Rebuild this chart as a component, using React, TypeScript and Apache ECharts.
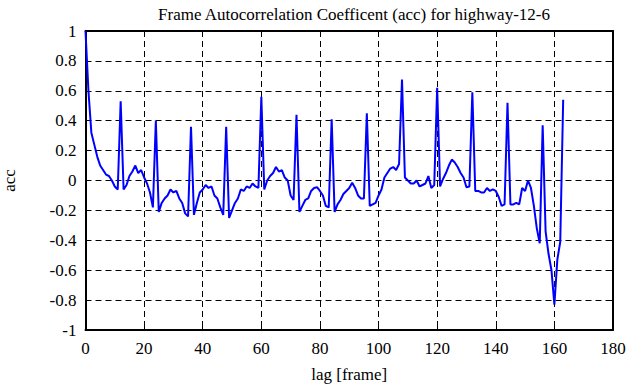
import React, { useEffect, useRef } from "react";
import * as echarts from "echarts";

const TITLE = "Frame Autocorrelation Coefficent (acc) for highway-12-6";
const X_NAME = "lag [frame]";
const Y_NAME = "acc";
const X_TICKS = [0, 20, 40, 60, 80, 100, 120, 140, 160, 180];
const Y_TICKS = [-1, -0.8, -0.6, -0.4, -0.2, 0, 0.2, 0.4, 0.6, 0.8, 1];

// autocorrelation value for lag = index (0..163)
const ACC = [
  1.0, 0.6, 0.32, 0.24, 0.16, 0.1, 0.07, 0.04, 0.03, 0.0,
  -0.04, -0.06, 0.53, -0.06, -0.03, 0.03, 0.06, 0.1, 0.05, 0.07,
  0.02, -0.02, -0.08, -0.18, 0.4, -0.21, -0.15, -0.12, -0.1, -0.06,
  -0.08, -0.07, -0.12, -0.15, -0.22, -0.24, 0.36, -0.23, -0.15, -0.08,
  -0.06, -0.03, -0.05, -0.04, -0.1, -0.12, -0.18, -0.23, 0.36, -0.25,
  -0.2, -0.15, -0.12, -0.06, -0.07, -0.04, -0.05, -0.02, -0.04, -0.05,
  0.56, -0.06, 0.0, 0.03, 0.05, 0.09, 0.06, 0.07, 0.02, 0.0,
  -0.1, -0.13, 0.44, -0.21, -0.17, -0.13, -0.12, -0.07, -0.05, -0.045,
  -0.07, -0.1, -0.17, -0.18, 0.41, -0.21, -0.16, -0.13, -0.09, -0.07,
  -0.05, -0.015, -0.05, -0.1, -0.12, -0.12, 0.45, -0.17, -0.16, -0.15,
  -0.1, -0.06, 0.02, 0.05, 0.08, 0.09, 0.07, 0.11, 0.675, 0.02,
  0.0, -0.02, -0.02, 0.0, -0.04, -0.03, -0.02, 0.03, -0.05, -0.03,
  0.62, -0.04, 0.01, 0.05, 0.1, 0.14, 0.12, 0.09, 0.05, 0.02,
  -0.045, -0.04, 0.59, -0.07, -0.07, -0.08, -0.08, -0.05, -0.07, -0.06,
  -0.07, -0.11, -0.17, -0.16, 0.52, -0.16, -0.16, -0.15, -0.16, -0.05,
  -0.07, 0.0, -0.05, -0.17, -0.32, -0.42, 0.37, -0.34, -0.49, -0.6,
  -0.83, -0.53, -0.41, 0.54,
];

const FONT = "Liberation Serif";

export default function App() {
  const ref = useRef<HTMLDivElement>(null);
  useEffect(() => {
    if (!ref.current) return;
    const chart = echarts.init(ref.current, null, { renderer: "svg" });
    const data = ACC.map((v, i) => [i, v]);
    const xMin = X_TICKS[0];
    const xMax = X_TICKS[X_TICKS.length - 1];
    const xInt = X_TICKS[1] - X_TICKS[0];
    const yMin = Y_TICKS[0];
    const yMax = Y_TICKS[Y_TICKS.length - 1];
    const label = { color: "#000", fontFamily: FONT, fontSize: 17 };
    const splitLine = { show: true, lineStyle: { color: "#000", type: [6, 4], width: 1 } };
    chart.setOption({
      animation: false,
      backgroundColor: "#fff",
      title: {
        text: TITLE,
        left: 349,
        textAlign: "center",
        top: 1,
        textStyle: { color: "#000", fontFamily: FONT, fontSize: 17, fontWeight: "normal" },
      },
      grid: {
        left: 85.5,
        right: 22,
        top: 31,
        bottom: 57,
        show: false,
        containLabel: false,
        outerBoundsMode: "none",
      },
      xAxis: [
        {
          type: "value",
          min: xMin,
          max: xMax,
          interval: xInt,
          name: X_NAME,
          nameLocation: "middle",
          nameGap: 36,
          nameTextStyle: label,
          axisLine: { show: true, onZero: false, lineStyle: { color: "#000", width: 2 } },
          axisTick: { show: true, inside: true, length: 5, lineStyle: { color: "#000", width: 1 } },
          axisLabel: { ...label, margin: 10 },
          splitLine,
        },
        {
          type: "value",
          position: "top",
          min: xMin,
          max: xMax,
          interval: xInt,
          axisLine: { show: true, onZero: false, lineStyle: { color: "#000", width: 2 } },
          axisTick: { show: true, inside: true, length: 5, lineStyle: { color: "#000", width: 1 } },
          axisLabel: { show: false },
          splitLine: { show: false },
        },
      ],
      yAxis: [
        {
          type: "value",
          min: yMin,
          max: yMax,
          interval: 0.2,
          name: Y_NAME,
          nameLocation: "middle",
          nameGap: 68,
          nameRotate: 90,
          nameTextStyle: label,
          axisLine: { show: true, onZero: false, lineStyle: { color: "#000", width: 2 } },
          axisTick: { show: true, inside: true, length: 5, lineStyle: { color: "#000", width: 1 } },
          axisLabel: {
            ...label,
            margin: 9,
            formatter: (v: number) => String(Math.round(v * 10) / 10),
          },
          splitLine,
        },
        {
          type: "value",
          position: "right",
          min: yMin,
          max: yMax,
          interval: 0.2,
          axisLine: { show: true, onZero: false, lineStyle: { color: "#000", width: 2 } },
          axisTick: { show: true, inside: true, length: 5, lineStyle: { color: "#000", width: 1 } },
          axisLabel: { show: false },
          splitLine: { show: false },
        },
      ],
      series: [
        {
          type: "line",
          xAxisIndex: 0,
          yAxisIndex: 0,
          data,
          showSymbol: false,
          symbol: "none",
          lineStyle: { color: "#0000ff", width: 2 },
          z: 5,
        },
      ],
    });
    return () => chart.dispose();
  }, []);
  return (
    <div
      ref={ref}
      style={{ position: "fixed", left: 0, top: 0, width: 635, height: 387 }}
    />
  );
}
